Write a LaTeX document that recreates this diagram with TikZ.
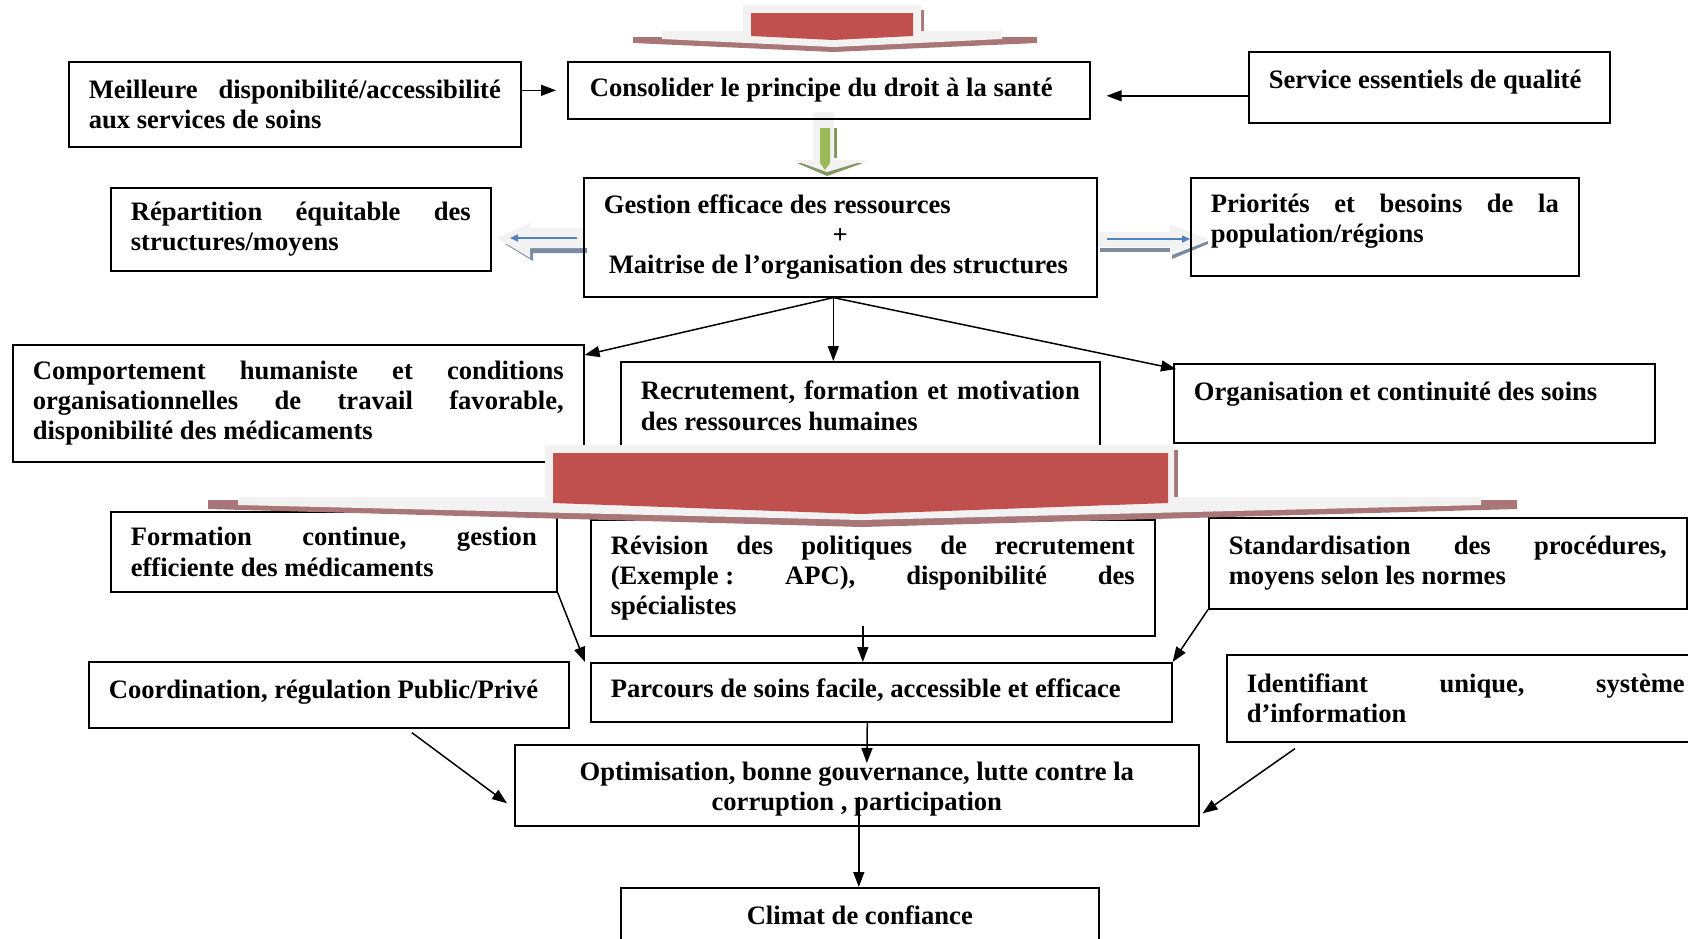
\documentclass[tikz,border=0pt]{standalone}
\usepackage{fontspec}
\setmainfont{Liberation Serif}
\usepackage{xcolor}
\usepackage{tikz}
\usetikzlibrary{arrows.meta,positioning}
\definecolor{bandred}{RGB}{192,80,77}
\definecolor{bandgray}{RGB}{242,242,242}
\definecolor{hatchred}{RGB}{168,118,118}
\definecolor{leafgreen}{RGB}{155,187,89}
\definecolor{hatchgreen}{RGB}{130,150,100}
\definecolor{flowblue}{RGB}{79,129,189}
\definecolor{hatchblue}{RGB}{125,138,160}
\newcommand{\fullline}[1]{\makebox[\linewidth][s]{\frenchspacing\spaceskip=\fontdimen2\font plus 1fil\relax#1}}

\begin{document}
\begin{tikzpicture}[
                x=1pt, y=-1pt,
                box/.style={rectangle, draw, line width=1.6pt, anchor=north west, inner xsep=20pt, inner ysep=0pt, align=left, font=\bfseries\fontsize{26.6}{30.2}\selectfont, execute at begin node={\spaceskip=0pt\xspaceskip=0pt}},
                centre/.style={align=center, execute at begin node={\spaceskip=\fontdimen2\font\relax\xspaceskip=\fontdimen2\font\relax}},
                fleche/.style={-{Triangle[length=15pt,width=11pt]}, line width=1.5pt},
                bluetip/.style={flowblue, line width=1.5pt, -{Triangle[length=8pt,width=7pt]}}
            ]
                \useasboundingbox (0,0) rectangle (1688,938);
                \clip (0,0) rectangle (1688,938);

                % bandeau du haut
                \fill[hatchred] (633,37) -- (1037,37) -- (1037,43) -- (833,52) -- (633,43) -- cycle;
                \fill[hatchred] (921,10) rectangle (924,31);
                \fill[bandgray] (743,5) -- (921,5) -- (921,31) -- (1002,31) -- (1002,39) -- (833,47) -- (662,39) -- (662,31) -- (743,31) -- cycle;
                \fill[bandred] (751,13) -- (913,13) -- (913,36) -- (833,40) -- (751,36) -- cycle;

                % fleche verte
                \fill[hatchgreen] (834,128) rectangle (837,158);
                \fill[hatchgreen] (797,163) -- (863,163) -- (827,176) -- cycle;
                \fill[bandgray] (813,112) -- (834,112) -- (834,160) -- (867,160) -- (827,172) -- (793,160) -- (813,160) -- cycle;
                \fill[leafgreen] (820,128) -- (830,128) -- (830,163) -- (825,170) -- (820,163) -- cycle;

                % fleches bleues
                \fill[hatchblue] (533,248) -- (587,248) -- (587,253) -- (533,253) -- (533,261) -- (505,244) -- cycle;
                \fill[bandgray] (497,238) -- (530,223) -- (530,228) -- (583,228) -- (583,248) -- (530,248) -- (530,258) -- cycle;
                \draw[bluetip] (577,238) -- (510,238);
                \fill[hatchblue] (1100,248) rectangle (1170,252);
                \fill[hatchblue] (1172,255) -- (1208,241) -- (1208,244) -- (1172,259) -- cycle;
                \fill[bandgray] (1096,232) -- (1170,232) -- (1170,224) -- (1208,239) -- (1170,254) -- (1170,247) -- (1096,247) -- cycle;
                \draw[bluetip] (1107,239) -- (1190,239);

                \node[box, text width=412pt, minimum height=85pt] (meilleure) at (68,61) {\fullline{Meilleure disponibilité/accessibilité}\\aux services de soins};
                \node[box, text width=478pt, minimum height=57pt, inner xsep=22pt] (consolider) at (567,61) {Consolider le principe du droit à la santé};
                \node[box, text width=321pt, minimum height=71pt, text depth=17pt] (service) at (1248,51) {Service essentiels de qualité};
                \node[box, text width=340pt, minimum height=83pt] (repartition) at (110,187) {\fullline{Répartition équitable des}\\structures/moyens};
                \node[box, text width=473pt, minimum height=119pt] (gestion) at (583,177) {Gestion efficace des ressources\\\makebox[\linewidth]{+}\\\hspace*{5pt}Maitrise de l’organisation des structures};
                \node[box, text width=348pt, minimum height=98pt, text depth=47pt] (priorites) at (1190,177) {\fullline{Priorités et besoins de la}\\population/régions};
                \node[box, text width=531pt, minimum height=117pt] (comportement) at (12,344) {\fullline{Comportement humaniste et conditions}\\\fullline{organisationnelles de travail favorable,}\\disponibilité des médicaments};
                \node[box, text width=439pt, minimum height=88pt] (recrutement) at (620,361) {\fullline{Recrutement, formation et motivation}\\des ressources humaines};
                \node[box, text width=441pt, minimum height=79pt, text depth=25pt] (organisation) at (1173,363) {Organisation et continuité des soins};
                \node[box, text width=406pt, minimum height=80pt] (formation) at (110,511) {\fullline{Formation continue, gestion}\\efficiente des médicaments};
                \node[box, text width=524pt, minimum height=116pt] (revision) at (590,519) {\fullline{Révision des politiques de recrutement}\\\fullline{(Exemple\kern0.25em: APC), disponibilité des}\\spécialistes};
                \node[box, text width=438pt, minimum height=91pt] (standard) at (1208,517) {\fullline{Standardisation des procédures,}\\moyens selon les normes};
                \node[box, text width=440pt, minimum height=66pt, text depth=12pt] (coordination) at (88,661) {Coordination, régulation Public/Privé};
                \node[box, text width=541pt, minimum height=59pt, text depth=9pt] (parcours) at (590,662) {Parcours de soins facile, accessible et efficace};
                \node[box, text width=438pt, minimum height=87pt] (identifiant) at (1226,654) {\fullline{Identifiant unique, système}\\d’information};
                \node[box, centre, text width=644pt, minimum height=81pt, text depth=28pt] (optimisation) at (514,744) {Optimisation, bonne gouvernance, lutte contre la\\corruption , participation};
                \node[box, centre, text width=438pt, minimum height=54pt] (climat) at (620,887) {Climat de confiance};

                % grand bandeau
                \fill[hatchred] (208,500) -- (1517,500) -- (1517,509) -- (862,527) -- (208,509) -- cycle;
                \fill[hatchred] (1174,450) rectangle (1178,497);
                \fill[bandgray] (545,445) -- (1174,445) -- (1174,497) -- (1481,497) -- (1481,505) -- (861,520) -- (238,505) -- (238,497) -- (545,497) -- cycle;
                \fill[bandred] (553,453) -- (1168,453) -- (1168,503) -- (861,514) -- (553,503) -- cycle;

                \coordinate (gbase) at ([xshift=-7pt]gestion.south);
                \coordinate (rv) at ([xshift=-10pt]revision.south);
                \draw[fleche] (meilleure.east |- consolider.west) -- ([xshift=-11pt]consolider.west);
                \draw[fleche] ([yshift=-8.5pt]service.west) -- ([xshift=16pt,yshift=-5.5pt]consolider.east);
                \draw[fleche] (gbase) -- ([yshift=-11pt]comportement.north east);
                \draw[fleche] (gbase) -- (gbase |- recrutement.north);
                \draw[fleche] (gbase) -- ([xshift=3pt,yshift=-6pt]organisation.north west);
                \draw[fleche] (formation.south east) -- ([xshift=-5pt]parcours.north west);
                \draw[fleche] ([yshift=11pt]rv) -- (rv |- parcours.north);
                \draw[fleche] (standard.south west) -- (parcours.north east);
                \draw[fleche] ([xshift=-14pt]parcours.south) -- ([xshift=10pt,yshift=-19pt]optimisation.north);
                \draw[fleche] ([xshift=2pt,yshift=-12pt]optimisation.center) -- ([xshift=-1pt]climat.north);
                \draw[fleche] ([xshift=83pt,yshift=-4pt]coordination.south) -- ([xshift=-7pt,yshift=-18pt]optimisation.west);
                \draw[fleche] ([xshift=69pt,yshift=-6pt]identifiant.south west) -- ([xshift=3pt,yshift=-28pt]optimisation.east);
            \end{tikzpicture}
\end{document}
